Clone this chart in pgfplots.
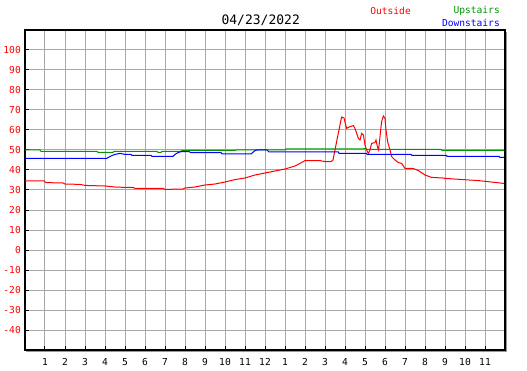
\documentclass[border=0pt]{standalone}
\usepackage{pgfplots}
\pgfplotsset{compat=1.18}
\usepackage{fontspec}
\setmonofont{DejaVu Sans Mono}
\definecolor{gridgray}{RGB}{168,168,168}
\definecolor{shadowgray}{RGB}{150,150,150}
\definecolor{outred}{RGB}{255,0,0}
\definecolor{upgreen}{RGB}{0,150,0}
\definecolor{downblue}{RGB}{0,0,255}
\newcommand{\tickfont}{\ttfamily\fontsize{9.6}{10}\selectfont}
\begin{document}
\begin{tikzpicture}
\useasboundingbox (-25pt,-20pt) rectangle (502pt,350pt);
\fill[shadowgray] (480.6pt,-2.2pt) rectangle (482.4pt,318pt);
\fill[shadowgray] (1pt,-2.2pt) rectangle (482.4pt,-0.6pt);
\begin{axis}[
  at={(0,0)}, anchor=south west,
  scale only axis, width=480pt, height=320pt,
  xmin=0, xmax=24, ymin=-50, ymax=110,
  axis line style={black, line width=1.5pt},
  xtick={1,...,23},
  xticklabels={1,2,3,4,5,6,7,8,9,10,11,12,1,2,3,4,5,6,7,8,9,10,11},
  ytick={-40,-30,...,100},
  yticklabels={-40,-30,-20,-10,0,10,20,30,40,50,60,70,80,90,100},
  tick align=inside, major tick length=4pt,
  tick style={black, line width=1pt},
  xtick pos=bottom, ytick pos=left,
  grid=major, major grid style={gridgray, line width=1pt},
  xticklabel style={font=\tickfont, text=black, inner sep=0pt, anchor=north, yshift=-8pt},
  yticklabel style={font=\tickfont, text=outred, inner sep=0pt, anchor=east, xshift=-4pt},
]
\addplot[outred, line width=1pt, mark=none] coordinates {
(0,34.5)(0.95,34.5)(1.05,33.7)(1.9,33.5)(2.0,33.0)(2.75,32.8)(3.0,32.3)(4.0,32.0)(4.5,31.5)(5.0,31.3)(5.4,31.3)(5.5,30.8)(6.9,30.8)(7.0,30.3)(7.9,30.5)(8.0,31.0)(8.5,31.5)(9.0,32.5)(9.5,33.0)(10.0,34.0)(10.5,35.2)(11.0,36.0)(11.5,37.5)(12.0,38.5)(12.5,39.5)(13.0,40.5)(13.5,42.0)(13.75,43.3)(14.0,44.7)(14.75,44.7)(15.0,44.2)(15.3,44.2)(15.4,45)(15.5,50)(15.58,54.2)(15.7,60)(15.83,66.5)(15.95,66)(16.08,60.8)(16.25,61.7)(16.42,62.2)(16.5,60.8)(16.67,55.8)(16.75,55)(16.83,58.3)(16.92,57.5)(17.0,52.5)(17.08,50)(17.17,48.3)(17.25,50)(17.33,53.3)(17.5,53.7)(17.55,55)(17.62,51.7)(17.68,50)(17.75,56.7)(17.83,64.2)(17.92,67)(18.0,65.8)(18.05,60)(18.13,54.2)(18.25,50)(18.33,46.7)(18.5,45)(18.67,43.7)(18.83,43.3)(19.0,40.8)(19.4,40.8)(19.67,39.7)(20.0,37.5)(20.33,36.3)(20.9,36.0)(21.0,35.8)(21.75,35.3)(22.67,34.7)(23.95,33.3)
};
\addplot[upgreen, line width=1pt, mark=none] coordinates {
(0,50)(0.75,50)(0.8,49.3)(3.6,49.3)(3.65,48.8)(4.4,48.8)(4.45,49.3)(6.6,49.3)(6.65,48.8)(6.8,48.8)(6.85,49.3)(7.8,49.3)(7.85,49.8)(10.5,49.8)(10.55,50)(13,50)(13.05,50.5)(16.9,50.5)(17,50.8)(17.1,50.3)(20.8,50.3)(20.85,49.8)(23.95,49.8)
};
\addplot[downblue, line width=1pt, mark=none] coordinates {
(0,45.8)(4.08,45.8)(4.3,47)(4.5,47.8)(4.75,48.3)(5.0,47.8)(5.3,47.8)(5.35,47.3)(6.3,47.3)(6.35,46.8)(7.4,46.8)(7.5,47.8)(7.67,48.8)(7.83,49.2)(8.2,49.2)(8.3,48.7)(9.8,48.7)(9.85,48)(11.3,48)(11.5,49.7)(11.6,50)(12.1,50)(12.2,49)(15.67,49)(15.7,48.3)(17.08,48.3)(17.1,47.8)(19.3,47.8)(19.35,47.3)(21.08,47.3)(21.1,46.8)(23.7,46.8)(23.75,46.3)(23.95,46.3)
};
\end{axis}
\node[font=\ttfamily\fontsize{13}{14}\selectfont, inner sep=0pt] at (235.7pt,330pt) {04/23/2022};
\node[font=\tickfont, text=outred, inner sep=0pt, anchor=east] at (386pt,339pt) {Outside};
\node[font=\tickfont, text=upgreen, inner sep=0pt, anchor=east] at (475pt,339pt) {Upstairs};
\node[font=\tickfont, text=downblue, inner sep=0pt, anchor=east] at (475pt,327pt) {Downstairs};
\end{tikzpicture}
\end{document}
